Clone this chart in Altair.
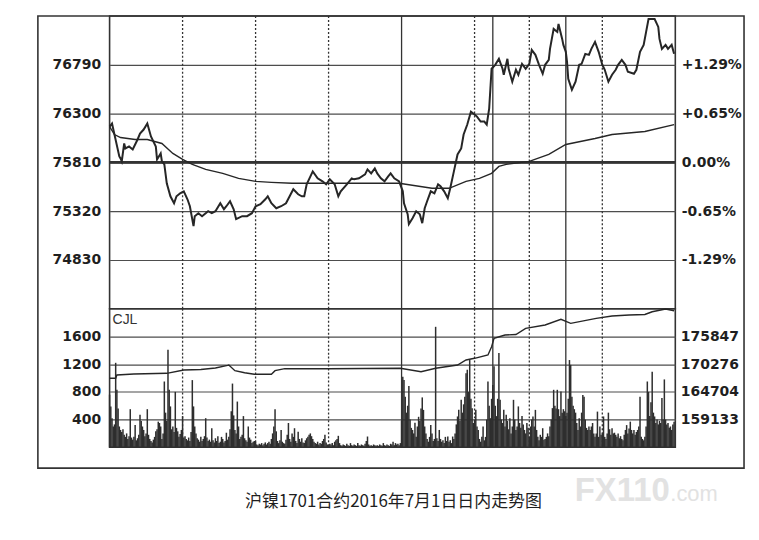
import altair as alt
import pandas as pd

# ---------------- data ----------------
title_text = "沪镍1701合约2016年7月1日日内走势图"
watermark_main = "FX110"
watermark_tail = ".com"
volume_label = "CJL"

# minute index from 21:00 (night 21:00-1:00, day 9:00-10:15, 10:30-11:30, 13:30-15:00)
price_minutes = [0, 2, 8, 9, 10, 12, 13, 16, 19, 23, 25, 28, 31, 34, 38, 39, 42, 43, 45, 47,
                 50, 53, 55, 58, 61, 64, 66, 69, 70, 73, 76, 79, 81, 84, 87, 91, 94, 96, 99, 102,
                 104, 109, 113, 117, 120, 124, 128, 130, 133, 137, 141, 145, 148, 151, 155, 158, 160, 162, 167, 171,
                 175, 178, 181, 185, 188, 190, 195, 199, 201, 205, 210, 212, 215, 218, 220, 223, 226, 229, 231, 234,
                 238, 241, 242, 245, 246, 249, 252, 255, 257, 259, 261, 264, 267, 270, 272, 275, 278, 280, 283, 286,
                 289, 291, 294, 297, 300, 302, 305, 308, 310, 312, 313, 314, 317, 320, 323, 324, 327, 328, 331, 334,
                 336, 339, 342, 345, 347, 350, 353, 356, 358, 361, 362, 365, 368, 369, 372, 373, 375, 376, 377, 380,
                 383, 386, 388, 391, 394, 396, 399, 402, 405, 407, 410, 413, 416, 418, 421, 424, 426, 431, 433, 436,
                 439, 441, 443, 448, 451, 452, 454, 457, 459, 462, 464]
prices = [76170, 76200, 75870, 75850, 75820, 76000, 75950, 75970, 75940, 76040, 76100, 76140, 76200, 76070, 75970, 75840, 75900, 75820, 75790, 75600,
          75470, 75400, 75470, 75500, 75520, 75440, 75370, 75170, 75270, 75300, 75270, 75300, 75320, 75300, 75320, 75400, 75340, 75370, 75420, 75340,
          75240, 75270, 75270, 75300, 75370, 75390, 75440, 75470, 75400, 75350, 75370, 75400, 75470, 75540, 75490, 75470, 75470, 75590, 75720, 75650,
          75620, 75590, 75640, 75590, 75470, 75520, 75590, 75650, 75640, 75650, 75690, 75740, 75700, 75750, 75700, 75650, 75620, 75670, 75700, 75650,
          75620, 75520, 75400, 75290, 75190, 75250, 75320, 75290, 75200, 75350, 75420, 75520, 75500, 75590, 75570, 75520, 75450, 75550, 75720, 75890,
          75950, 76090, 76190, 76320, 76290, 76270, 76220, 76220, 76190, 76350, 76550, 76750, 76790, 76850, 76750, 76690, 76850, 76750, 76620, 76740,
          76690, 76800, 76750, 76800, 76940, 76890, 76790, 76700, 76790, 76840, 76950, 77150, 77120, 77200, 77050, 76990, 76920, 76820, 76650, 76540,
          76620, 76790, 76800, 76900, 76890, 76950, 77020, 76920, 76790, 76740, 76620, 76690, 76740, 76790, 76840, 76790, 76720, 76700, 76740, 76920,
          76990, 77120, 77250, 77250, 77170, 77050, 76950, 76990, 76950, 76990, 76900]

avg_minutes = [0, 4, 9, 21, 31, 43, 52, 60, 68, 79, 93, 106, 120, 133, 150, 160, 238, 265, 279, 293,
               304, 314, 320, 326, 345, 361, 375, 399, 413, 440, 464]
avg_prices = [76170, 76090, 76060, 76040, 76040, 76000, 75900, 75840, 75790, 75740, 75700, 75650, 75620, 75610, 75600, 75600, 75600, 75550, 75550, 75620,
              75650, 75700, 75770, 75790, 75820, 75890, 75990, 76050, 76090, 76120, 76190]

volume = [
    760, 590, 420, 300, 330, 1220, 830, 560, 300, 250, 220, 260, 180, 150, 200, 120, 160, 550, 140, 110,
    150, 320, 100, 130, 180, 470, 380, 300, 250, 160, 200, 550, 180, 120, 90, 70, 110, 150, 230, 260,
    370, 350, 300, 120, 200, 950, 500, 380, 1410, 830, 590, 260, 300, 220, 800, 280, 230, 150, 190, 250,
    450, 140, 160, 120, 100, 140, 90, 220, 970, 590, 300, 200, 130, 110, 80, 150, 90, 120, 160, 420,
    140, 90, 110, 80, 275, 100, 70, 130, 90, 160, 60, 80, 150, 120, 70, 90, 210, 110, 150, 260,
    520, 920, 460, 250, 200, 660, 300, 120, 150, 180, 450, 130, 100, 80, 300, 140, 110, 60, 80, 90,
    80, 40, 30, 50, 40, 60, 30, 50, 70, 40, 60, 80, 50, 120, 200, 300, 550, 230, 90, 60,
    100, 250, 80, 60, 50, 110, 180, 350, 120, 80, 200, 150, 275, 90, 60, 225, 120, 80, 130, 70,
    60, 100, 130, 150, 180, 200, 160, 120, 80, 60, 50, 80, 40, 60, 50, 90, 120, 180, 70, 40,
    30, 50, 40, 60, 30, 80, 100, 120, 165, 60, 30, 20, 40, 30, 20, 50, 30, 20, 60, 30,
    20, 40, 30, 20, 60, 30, 20, 40, 30, 20, 50, 90, 155, 40, 20, 30, 20, 40, 30, 20,
    30, 20, 40, 30, 20, 60, 30, 20, 40, 30, 20, 50, 40, 80, 30, 60, 40, 50, 30, 60,
    380, 1020, 970, 730, 500, 600, 885, 400, 280, 250, 200, 355, 150, 300, 440, 380, 560, 720, 540, 300,
    200, 120, 80, 150, 320, 200, 90, 120, 1740, 130, 90, 250, 120, 80, 100, 60, 150, 90, 155, 80,
    100, 60, 155, 120, 200, 330, 445, 540, 380, 685, 500, 620, 730, 1070, 1120, 800, 1260, 700, 565, 350,
    400, 540, 300, 250, 120, 80, 150, 300, 100, 150, 400, 950, 600, 420, 700,
    900, 1170, 600, 450, 700, 1360, 685, 400, 350, 540, 300, 470, 380, 260, 420, 200, 300, 685, 400, 250,
    300, 590, 350, 280, 450, 330, 250, 200, 350, 280, 150, 300, 400, 445, 300, 540, 250, 150, 100, 180,
    150, 275, 110, 120, 150, 200, 160, 300, 400, 565, 830, 600, 560, 830, 550, 450, 805, 500, 550, 520,
    450, 500, 700, 1260, 1190, 730, 600, 550, 500, 350, 250, 420, 300, 500, 755, 730, 400, 280, 250, 300,
    250, 300, 350, 200, 150, 200, 515, 150, 300, 180, 200, 445, 150, 120, 200, 500, 260, 180, 275, 200,
    210, 180, 150, 200, 130, 160, 120, 100, 180, 250, 320, 200, 270, 370, 250, 200, 250, 180, 220, 250,
    300, 730, 150, 120, 100, 150, 300, 950, 800, 450, 650, 1090, 500, 445, 350, 400, 330, 380, 350, 710,
    400, 980, 400, 330, 350, 280, 300, 250, 330, 370,
]

oi_minutes = [0, 5, 6, 20, 47, 61, 75, 87, 97, 98, 103, 111, 119, 133, 136, 144, 156, 180, 239, 256,
              268, 286, 293, 300, 311, 314, 316, 325, 334, 342, 358, 371, 379, 400, 413, 427, 440, 446, 457, 464]
oi_values = [167440, 167440, 168100, 168300, 168440, 169110, 169210, 169510, 170050, 170110, 168970, 168560, 168240, 168240, 168970, 169370, 169370, 169370, 169450, 168770,
             169450, 170110, 171120, 171460, 172120, 173790, 175480, 176150, 176250, 177490, 178160, 179300, 178500, 179500, 179970, 180170, 180270, 180830, 181380, 181030]

time_tick_minutes = [0, 60, 120, 180, 240, 300, 345, 405, 465]
time_tick_labels = ["21:00", "22:00", "23:00", "0:00", "9:00", "10:00", "11:00", "14:00", "15:00"]
price_ticks = [76790, 76300, 75810, 75320, 74830]
pct_labels = ["+1.29%", "+0.65%", "0.00%", "-0.65%", "-1.29%"]
prev_settle = 75810
vol_ticks = [1600, 1200, 800, 400]
oi_ticks = [175847, 170276, 164704, 159133]
solid_vlines = [240, 315, 375]
dotted_vlines = [60, 120, 180, 300, 345, 405]

# ---------------- helpers ----------------
def label_expr(values, labels):
    expr = "''"
    for v, l in reversed(list(zip(values, labels))):
        expr = f"datum.value == {v} ? '{l}' : ({expr})"
    return expr

W, H1, H2 = 568, 294, 139
INK = "#262626"
GRID = "#4d4d4d"

xs = alt.Scale(domain=[0, 465], nice=False, zero=False)
price_scale = alt.Scale(domain=[74340, 77280], nice=False, zero=False)
vol_scale = alt.Scale(domain=[0, 2000], nice=False, zero=True)
oi_scale = alt.Scale(domain=[153562, 181418], nice=False, zero=False)

price_df = pd.DataFrame({"m": price_minutes, "p": prices})
avg_df = pd.DataFrame({"m": avg_minutes, "a": avg_prices})
vol_df = pd.DataFrame({"m": list(range(len(volume))), "v": volume})
oi_df = pd.DataFrame({"m": oi_minutes, "oi": oi_values})
solid_df = pd.DataFrame({"m": solid_vlines})
dotted_df = pd.DataFrame({"m": dotted_vlines})
settle_df = pd.DataFrame({"s": [prev_settle]})
one = pd.DataFrame({"t": [title_text], "w1": [watermark_main], "w2": [watermark_tail], "c": [volume_label]})

def vrules():
    solid = alt.Chart(solid_df).mark_rule(color="#333333", strokeWidth=1.3).encode(
        x=alt.X("m:Q", scale=xs, axis=None))
    dotted = alt.Chart(dotted_df).mark_rule(color="#333333", strokeWidth=1.3, strokeDash=[2, 2]).encode(
        x=alt.X("m:Q", scale=xs, axis=None))
    return solid, dotted

# ---------------- price panel ----------------
s1, d1 = vrules()
settle_line = alt.Chart(settle_df).mark_rule(color="#333333", strokeWidth=2.8).encode(
    y=alt.Y("s:Q", scale=price_scale, axis=None))
avg_line = alt.Chart(avg_df).mark_line(color=INK, strokeWidth=1.4).encode(
    x=alt.X("m:Q", scale=xs, axis=None),
    y=alt.Y("a:Q", scale=price_scale, title=None,
            axis=alt.Axis(orient="right", values=price_ticks, labelExpr=label_expr(price_ticks, pct_labels),
                          grid=False, labelPadding=6, labelAlign="left")))
price_line = alt.Chart(price_df).mark_line(color=INK, strokeWidth=2).encode(
    x=alt.X("m:Q", scale=xs, axis=None),
    y=alt.Y("p:Q", scale=price_scale, title=None,
            axis=alt.Axis(orient="left", values=price_ticks, format="d", grid=True, labelPadding=9)))

top = alt.layer(s1, d1, settle_line, avg_line, price_line).resolve_scale(y="independent").properties(
    width=W, height=H1)

# ---------------- volume panel ----------------
s2, d2 = vrules()
bars = alt.Chart(vol_df).mark_rule(color="#2e2e2e", strokeWidth=1.5).encode(
    x=alt.X("m:Q", scale=xs, title=None,
            axis=alt.Axis(values=time_tick_minutes, labelExpr=label_expr(time_tick_minutes, time_tick_labels),
                          grid=False, labelPadding=4, labelFlush=False, labelBound=False, labelOverlap=False)),
    y=alt.Y("v:Q", scale=vol_scale, title=None,
            axis=alt.Axis(orient="left", values=vol_ticks, format="d", grid=True, labelPadding=9)),
    y2=alt.datum(0))
oi_line = alt.Chart(oi_df).mark_line(color=INK, strokeWidth=1.4).encode(
    x=alt.X("m:Q", scale=xs, axis=None),
    y=alt.Y("oi:Q", scale=oi_scale, title=None,
            axis=alt.Axis(orient="right", values=oi_ticks, format="d", grid=False, labelPadding=5)))
cjl = alt.Chart(one).mark_text(font="Liberation Sans", fontSize=14, color="#333333", align="left",
                               baseline="middle").encode(text="c:N", x=alt.value(3), y=alt.value(11))
frame = alt.Chart(one).mark_rect(fill="white", fillOpacity=0, stroke="#333333", strokeWidth=1.6).encode(
    x=alt.value(-72), x2=alt.value(637), y=alt.value(-H1), y2=alt.value(160))
title = alt.Chart(one).mark_text(font="Noto Sans CJK SC", fontSize=17, color="#1f1f1f", align="center",
                                 baseline="middle").encode(text="t:N", x=alt.value(285), y=alt.value(194))
wm1 = alt.Chart(one).mark_text(font="Liberation Sans", fontWeight="bold", fontSize=33, color="#e2e2e2",
                               align="left", baseline="alphabetic").encode(text="w1:N", x=alt.value(467), y=alt.value(193))
wm2 = alt.Chart(one).mark_text(font="Liberation Sans", fontSize=22, color="#e2e2e2",
                               align="left", baseline="alphabetic").encode(text="w2:N", x=alt.value(563), y=alt.value(193))

bottom = alt.layer(s2, d2, bars, oi_line, cjl, frame, wm1, wm2, title).resolve_scale(y="independent").properties(
    width=W, height=H2)

chart = alt.vconcat(top, bottom, spacing=0).properties(
    bounds="flush",
    padding={"left": 28, "top": 5, "right": 5, "bottom": 5},
    background="white",
).configure_view(stroke="#333333", strokeWidth=1.6).configure_axis(
    labelFont="DejaVu Sans", labelFontWeight="bold", labelFontSize=14, labelColor="#1f1f1f",
    ticks=False, domain=False, gridColor=GRID, gridWidth=1.2, gridOpacity=1,
)

chart.save("out.html", embed_options={"renderer": "svg", "actions": False})
